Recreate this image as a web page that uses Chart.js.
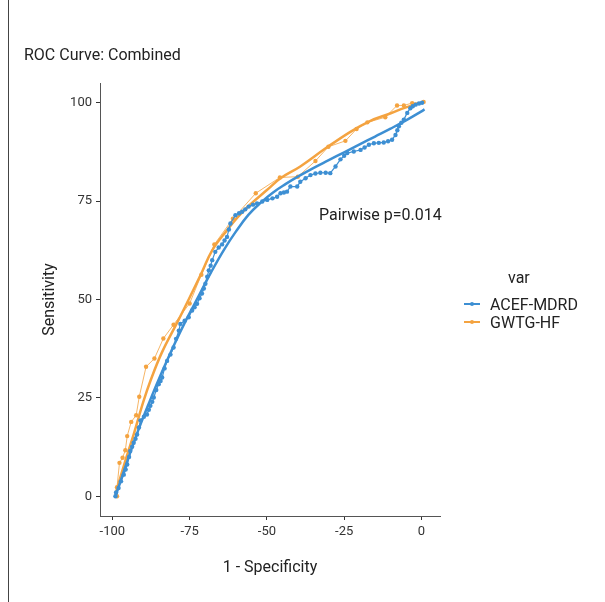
<!DOCTYPE html>
<html>
<head>
<meta charset="utf-8">
<script src="https://cdn.jsdelivr.net/npm/chart.js@4.4.1/dist/chart.umd.min.js"></script>
<style>
  body { margin: 0; background: #fff; }
  #wrap { position: relative; width: 605px; height: 602px; }
  #frame { position: absolute; left: 8px; top: 0; width: 1px; height: 602px; background: #444; }
  #legend { position: absolute; left: 464px; top: 268px; font-family: "Roboto", sans-serif; font-size: 16px; color: #222; }
  #legend .ttl { margin-left: 44px; margin-bottom: 8px; }
  #legend .item { display: flex; align-items: center; height: 18px; }
  #legend .sym { position: relative; width: 16px; height: 2px; margin-right: 10px; }
  #legend .sym i { position: absolute; left: 6px; top: -1px; width: 4px; height: 4px; border-radius: 2px; }
</style>
</head>
<body>
<div id="wrap">
  <canvas id="graficoRoc" width="605" height="602"></canvas>
  <div id="frame"></div>
  <div id="legend">
    <div class="ttl">var</div>
    <div class="item"><span class="sym" style="background:#3d8fd3"><i style="background:#3d8fd3"></i></span>ACEF-MDRD</div>
    <div class="item"><span class="sym" style="background:#f4a340"><i style="background:#f4a340"></i></span>GWTG-HF</div>
  </div>
</div>
<script>
// datos
const xTicks = [-100, -75, -50, -25, 0];
const yTicks = [0, 25, 50, 75, 100];

const acefX = [-99, -98.8, -98, -97.2, -96.3, -95.7, -95.2, -94.6, -94.2, -93.6, -93.1, -92.5, -92, -91.4, -90.9, -89.8, -88.8, -88.2, -87.7, -87.1, -86.6, -85.8, -85, -84.4, -83.9, -83.1, -82.3, -81.2, -80.2, -79.4, -78.5, -78, -76.6, -75.3, -74.2, -73.4, -72.6, -71.8, -71, -70.4, -69.9, -69.3, -68.8, -68.2, -67.7, -66.7, -65.6, -64.5, -63.7, -62.9, -62.3, -61.8, -60.2, -59, -58, -57, -55.9, -54.5, -53.2, -51.5, -49.9, -48.2, -46.7, -45.6, -44.5, -43.5, -42.4, -40.2, -39.2, -37.5, -35.9, -34.3, -32.7, -31, -29.5, -27.8, -26.2, -25, -24, -21.9, -19.7, -18.4, -17, -15.4, -13.8, -12.2, -10.8, -9.5, -8.4, -7.8, -7.3, -6.5, -5.7, -4.6, -3.6, -2.8, -1.9, -0.8, 0.2];
const acefY = [0, 1, 2.1, 3.8, 5.5, 6.8, 8.1, 10, 11.5, 12.6, 13.6, 14.6, 15.7, 17.5, 19.3, 20.2, 20.8, 22, 23, 24, 25.1, 27, 28.5, 29.3, 30.2, 32.5, 34.4, 36, 37.8, 40, 42.1, 43.8, 44.6, 45.5, 47.2, 48, 48.9, 50.3, 51.5, 52.8, 54, 55.8, 57.4, 58.6, 60, 62.1, 63.2, 64, 65, 65.9, 67.8, 69.3, 71.4, 71.9, 72.3, 72.9, 73.6, 74.1, 74.4, 74.9, 75.3, 75.7, 76.1, 77, 77.2, 77.4, 78.7, 78.7, 79.9, 80.8, 81.6, 82, 82.2, 82.2, 82.1, 83.8, 85.6, 86.5, 87.2, 87.6, 88, 88.6, 89.3, 89.7, 89.8, 89.9, 90.2, 90.6, 91.8, 93, 94, 94.9, 95.7, 97.4, 98.6, 99.1, 99.5, 99.8, 100];
const acefFitX = [-99, -96, -92, -88, -84, -80, -76, -72, -68, -64, -60, -56, -52, -48, -44, -40, -35, -30, -25, -20, -15, -10, -5, 0, 1];
const acefFitY = [0, 7, 16, 24, 31.5, 38.5, 45, 51, 57, 62.5, 67.3, 71.5, 74.6, 77.2, 79.3, 81.2, 83.4, 85.4, 87.4, 89.4, 91.4, 93.4, 95.5, 97.8, 98.3];

const gwtgX = [-98.5, -98.5, -97.7, -96.7, -95.8, -95.2, -93.9, -92.3, -91.3, -89.1, -86.4, -83.5, -80.2, -75, -71.2, -67, -61, -53.6, -45.8, -40, -34.3, -30.1, -24.6, -21, -17.5, -11.7, -7.9, -5.7, -3, 0.7];
const gwtgY = [0, 2.3, 8.5, 9.8, 11.7, 15.3, 18.9, 20.6, 25.3, 32.9, 35, 40.1, 43.6, 49, 56.3, 64, 70.5, 77, 81, 81.2, 85.2, 88.8, 90.3, 93.3, 95, 96.3, 99.3, 99.3, 99.9, 100.2];
const gwtgFitX = [-99, -98.7, -96, -93, -90, -87.7, -84, -79, -75, -71, -67.7, -63, -59, -55, -50, -45.6, -39.2, -31, -23, -16.5, -11, -5, 0, 1];
const gwtgFitY = [0, 1.3, 8.5, 16, 24, 29.3, 36.5, 44.2, 50.5, 57, 62.5, 67.5, 71.3, 74.4, 77.8, 80.8, 83.8, 88.4, 92.6, 95.4, 97, 98.8, 100, 100.3];

const azul = "#3d8fd3";
const naranja = "#f4a340";
const fuente = "'Roboto', sans-serif";

function puntos(xs, ys) {
  return xs.map((x, i) => ({ x: x, y: ys[i] }));
}

// texto del titulo y la anotacion
const textos = {
  id: "textos",
  afterDraw(chart) {
    const ctx = chart.ctx;
    const sx = chart.scales.x, sy = chart.scales.y;
    ctx.save();
    ctx.fillStyle = "#222";
    ctx.font = "16px " + fuente;
    ctx.textBaseline = "middle";
    ctx.textAlign = "left";
    ctx.fillText("ROC Curve: Combined", 24, 56);
    ctx.textAlign = "center";
    ctx.fillText("Pairwise p=0.014", sx.getPixelForValue(-13.3), sy.getPixelForValue(71.2));
    ctx.restore();
  }
};

const ctx = document.getElementById("graficoRoc").getContext("2d");

new Chart(ctx, {
  type: "scatter",
  data: {
    datasets: [
      {
        label: "ACEF-MDRD",
        data: puntos(acefX, acefY),
        showLine: true,
        borderColor: azul,
        backgroundColor: azul,
        borderWidth: 1.2,
        pointRadius: 2.2,
        pointBorderWidth: 0
      },
      {
        label: "ACEF-MDRD fit",
        data: puntos(acefFitX, acefFitY),
        showLine: true,
        borderColor: azul,
        borderWidth: 2.5,
        pointRadius: 0,
        tension: 0.4
      },
      {
        label: "GWTG-HF",
        data: puntos(gwtgX, gwtgY),
        showLine: true,
        borderColor: "rgba(244,163,64,0.8)",
        backgroundColor: naranja,
        borderWidth: 1,
        pointRadius: 2.2,
        pointBorderWidth: 0
      },
      {
        label: "GWTG-HF fit",
        data: puntos(gwtgFitX, gwtgFitY),
        showLine: true,
        borderColor: naranja,
        borderWidth: 2.5,
        pointRadius: 0,
        tension: 0.4
      }
    ]
  },
  options: {
    responsive: false,
    animation: false,
    layout: { padding: { left: 40, top: 83, right: 165, bottom: 24 } },
    plugins: {
      legend: { display: false },
      tooltip: { enabled: false }
    },
    scales: {
      x: {
        type: "linear",
        min: -104,
        max: 6,
        afterBuildTicks: (scale) => { scale.ticks = xTicks.map(v => ({ value: v })); },
        afterFit: (scale) => { scale.height = 62; },
        grid: { drawOnChartArea: false, drawTicks: true, tickLength: 4, color: "#333" },
        border: { display: true, color: "#555", width: 1 },
        ticks: { color: "#333", font: { family: fuente, size: 13 }, padding: 4, maxRotation: 0 },
        title: { display: true, text: "1 - Specificity", color: "#222", font: { family: fuente, size: 16 }, padding: { top: 8, bottom: 0 } }
      },
      y: {
        type: "linear",
        min: -5,
        max: 105,
        afterBuildTicks: (scale) => { scale.ticks = yTicks.map(v => ({ value: v })); },
        afterFit: (scale) => { scale.width = 60; },
        grid: { drawOnChartArea: false, drawTicks: true, tickLength: 4, color: "#333" },
        border: { display: true, color: "#555", width: 1 },
        ticks: { color: "#333", font: { family: fuente, size: 13 }, padding: 4 },
        title: { display: true, text: "Sensitivity", color: "#222", font: { family: fuente, size: 16 }, padding: { top: 0, bottom: 4 } }
      }
    }
  },
  plugins: [textos]
});
</script>
</body>
</html>
